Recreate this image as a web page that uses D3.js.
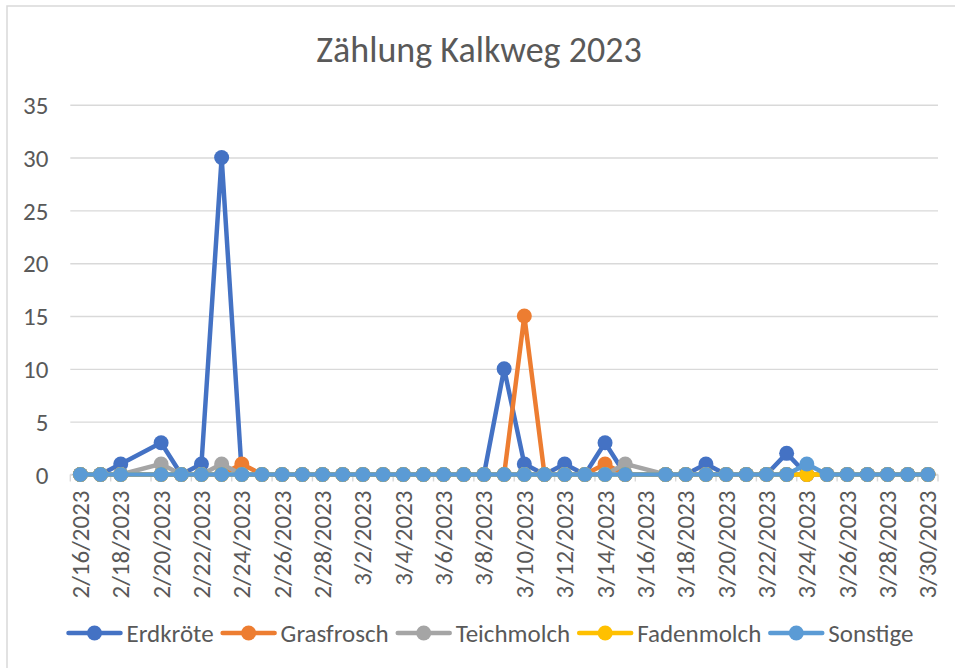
<!DOCTYPE html>
<html>
<head>
<meta charset="utf-8">
<script src="https://cdn.jsdelivr.net/npm/d3@7"></script>
<style>
  html, body { margin: 0; padding: 0; background: #fff; }
  svg { display: block; font-family: Carlito, Calibri, Lato, sans-serif; }
</style>
</head>
<body>
<svg id="chart" width="955" height="668"></svg>
<script>
// Daily counts, Kalkweg 2023 (null = no count that day)
const categories = [
  "2/16/2023","2/17/2023","2/18/2023","2/19/2023","2/20/2023","2/21/2023","2/22/2023",
  "2/23/2023","2/24/2023","2/25/2023","2/26/2023","2/27/2023","2/28/2023","3/1/2023",
  "3/2/2023","3/3/2023","3/4/2023","3/5/2023","3/6/2023","3/7/2023","3/8/2023",
  "3/9/2023","3/10/2023","3/11/2023","3/12/2023","3/13/2023","3/14/2023","3/15/2023",
  "3/16/2023","3/17/2023","3/18/2023","3/19/2023","3/20/2023","3/21/2023","3/22/2023",
  "3/23/2023","3/24/2023","3/25/2023","3/26/2023","3/27/2023","3/28/2023","3/29/2023",
  "3/30/2023"
];

const erdkroete  = [0,0,1,null,3,0,1,30,0,0,0,0,0,0,0,0,0,0,0,0,0,10,1,0,1,0,3,0,null,0,0,1,0,0,0,2,0,0,0,0,0,0,0];
const grasfrosch = [0,0,0,null,0,0,0,0,1,0,0,0,0,0,0,0,0,0,0,0,0,0,15,0,0,0,1,0,null,0,0,0,0,0,0,0,0,0,0,0,0,0,0];
const teichmolch = [0,0,0,null,1,0,0,1,0,0,0,0,0,0,0,0,0,0,0,0,0,0,0,0,0,0,0,1,null,0,0,0,0,0,0,0,0,0,0,0,0,0,0];
const fadenmolch = [0,0,0,null,0,0,0,0,0,0,0,0,0,0,0,0,0,0,0,0,0,0,0,0,0,0,0,0,null,0,0,0,0,0,0,0,0,0,0,0,0,0,0];
const sonstige   = [0,0,0,null,0,0,0,0,0,0,0,0,0,0,0,0,0,0,0,0,0,0,0,0,0,0,0,0,null,0,0,0,0,0,0,0,1,0,0,0,0,0,0];

const seriesNames  = ["Erdkröte", "Grasfrosch", "Teichmolch", "Fadenmolch", "Sonstige"];
const seriesColors = ["#4472C4", "#ED7D31", "#A5A5A5", "#FFC000", "#5B9BD5"];
const yTicks = [0, 5, 10, 15, 20, 25, 30, 35];
const titleText = "Zählung Kalkweg 2023";

const seriesValues = [erdkroete, grasfrosch, teichmolch, fadenmolch, sonstige];
const series = seriesNames.map((name, k) => ({ name, color: seriesColors[k], values: seriesValues[k] }));

const svg = d3.select("#chart");
const textColor = "#595959";
const gridColor = "#d9d9d9";
const labelSize = 25;

// chart frame
svg.append("rect")
  .attr("x", 7).attr("y", 6).attr("width", 960).attr("height", 680)
  .attr("fill", "#fff").attr("stroke", gridColor).attr("stroke-width", 1.5);

const plot = { left: 70.3, right: 938, top: 104.7, bottom: 474.5 };

const x = d3.scaleBand().domain(categories).range([plot.left, plot.right]).padding(0);
const cx = c => x(c) + x.bandwidth() / 2;
const y = d3.scaleLinear().domain([0, 35]).range([plot.bottom, plot.top]);

// title
svg.append("text")
  .attr("x", 479).attr("y", 62)
  .attr("text-anchor", "middle")
  .attr("fill", textColor)
  .attr("font-size", 36)
  .text(titleText);

// horizontal gridlines + y labels
const yAxis = d3.axisLeft(y).tickValues(yTicks).tickSize(-(plot.right - plot.left)).tickPadding(22);
const gy = svg.append("g").attr("transform", `translate(${plot.left},0)`).call(yAxis);
gy.attr("font-family", null).attr("font-size", null);
gy.select(".domain").remove();
gy.selectAll(".tick line").attr("stroke", gridColor).attr("stroke-width", 1.4);
gy.selectAll(".tick text")
  .attr("fill", textColor).attr("font-size", labelSize)
  .attr("dy", "0.35em");

// category axis: baseline, tick marks between every second pair of categories, rotated labels
const boundaryTicks = categories.map((c, i) => i).filter(i => i % 2 === 0).map(i => x(categories[i]));
svg.append("line")
  .attr("x1", plot.left).attr("x2", plot.right)
  .attr("y1", plot.bottom).attr("y2", plot.bottom)
  .attr("stroke", gridColor).attr("stroke-width", 1.4);
svg.append("g").selectAll("line").data(boundaryTicks.concat([plot.right])).join("line")
  .attr("x1", d => d).attr("x2", d => d)
  .attr("y1", plot.bottom).attr("y2", plot.bottom + 7)
  .attr("stroke", gridColor).attr("stroke-width", 1.4);

const labelCats = categories.filter((c, i) => i % 2 === 0);
svg.append("g").selectAll("text").data(labelCats).join("text")
  .attr("transform", d => `translate(${cx(d) + 8.5},${plot.bottom + 16}) rotate(-90)`)
  .attr("text-anchor", "end")
  .attr("fill", textColor)
  .attr("font-size", labelSize)
  .text(d => d);

// series lines and markers (gaps are bridged by joining the recorded days)
const line = d3.line().x(d => cx(d.c)).y(d => y(d.v));
series.forEach(s => {
  const pts = categories.map((c, i) => ({ c, v: s.values[i] })).filter(d => d.v !== null);
  const g = svg.append("g");
  g.append("path")
    .attr("d", line(pts))
    .attr("fill", "none").attr("stroke", s.color)
    .attr("stroke-width", 4.5)
    .attr("stroke-linejoin", "round").attr("stroke-linecap", "round");
  g.selectAll("circle").data(pts).join("circle")
    .attr("cx", d => cx(d.c)).attr("cy", d => y(d.v)).attr("r", 7.5)
    .attr("fill", s.color);
});

// legend
const legend = svg.append("g");
const legendY = 633;
const sampleLen = 56, textGap = 4, itemGap = 7;
const items = series.map(s => {
  const t = legend.append("text")
    .attr("fill", textColor).attr("font-size", labelSize)
    .attr("dy", "0.35em").attr("y", legendY)
    .text(s.name);
  return { s, t, w: t.node().getComputedTextLength() };
});
const total = d3.sum(items, d => sampleLen + textGap + d.w) + itemGap * (items.length - 1);
let lx = 490 - total / 2;
items.forEach(d => {
  legend.append("line")
    .attr("x1", lx + 2).attr("x2", lx + sampleLen - 2)
    .attr("y1", legendY).attr("y2", legendY)
    .attr("stroke", d.s.color).attr("stroke-width", 4.5).attr("stroke-linecap", "round");
  legend.append("circle")
    .attr("cx", lx + sampleLen / 2).attr("cy", legendY).attr("r", 7.5)
    .attr("fill", d.s.color);
  d.t.attr("x", lx + sampleLen + textGap);
  lx += sampleLen + textGap + d.w + itemGap;
});
</script>
</body>
</html>
